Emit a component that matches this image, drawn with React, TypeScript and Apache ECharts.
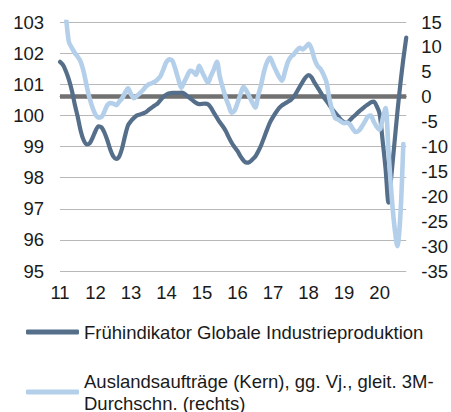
import React, { useEffect, useRef } from "react";
import * as echarts from "echarts";

// x axis: months Jan 2011 .. Oct 2020
const years = [2011, 2012, 2013, 2014, 2015, 2016, 2017, 2018, 2019, 2020];
const months = ["01", "02", "03", "04", "05", "06", "07", "08", "09", "10", "11", "12"];
const lastMonth2020 = 10;

// Frühindikator Globale Industrieproduktion (left axis)
const industrie = [
  // 2011
  101.72, 101.62, 101.42, 101.15, 100.8, 100.35, 99.95, 99.5, 99.2, 99.07, 99.1, 99.28,
  // 2012
  99.5, 99.65, 99.62, 99.45, 99.2, 98.9, 98.68, 98.6, 98.68, 98.95, 99.35, 99.68,
  // 2013
  99.82, 99.92, 100.0, 100.03, 100.06, 100.1, 100.18, 100.25, 100.32, 100.38, 100.5, 100.6,
  // 2014
  100.67, 100.71, 100.72, 100.72, 100.72, 100.73, 100.7, 100.62, 100.55, 100.47, 100.4, 100.36,
  // 2015
  100.37, 100.38, 100.36, 100.25, 100.08, 99.93, 99.78, 99.65, 99.5, 99.3, 99.12, 98.98,
  // 2016
  98.85, 98.68, 98.55, 98.48, 98.5, 98.58, 98.68, 98.85, 99.05, 99.3, 99.55, 99.78,
  // 2017
  99.95, 100.1, 100.23, 100.32, 100.38, 100.44, 100.5, 100.6, 100.75, 100.92, 101.08, 101.22,
  // 2018
  101.29, 101.22, 101.05, 100.9, 100.75, 100.6, 100.47, 100.33, 100.2, 100.08, 99.97, 99.85,
  // 2019
  99.78, 99.77, 99.85, 99.95, 100.03, 100.12, 100.2, 100.28, 100.35, 100.42, 100.44, 100.3,
  // 2020
  100.05, 99.2, 98.3, 97.2, 98.1, 99.1, 100.1, 101.0, 101.8, 102.5,
];

// Auslandsaufträge (Kern), gg. Vj., gleit. 3M-Durchschn. (right axis)
const auftraege = [
  // 2011
  24, 20, 16, 11, 9.8, 8.8, 8.0, 7.0, 5.0, 2.2, -0.3, -2.2,
  // 2012
  -3.6, -4.2, -4.1, -3.0, -1.7, -1.3, -1.4, -1.7, -1.0, -0.3, 0.8, 1.7,
  // 2013
  0.5, -0.3, 0.2, 0.7, 1.3, 2.0, 2.5, 2.7, 3.0, 3.5, 4.2, 5.6,
  // 2014
  7.0, 7.5, 7.2, 5.5, 3.5, 1.8, 3.0, 4.2, 5.2, 5.0, 4.4, 6.2,
  // 2015
  5.0, 3.8, 2.8, 4.2, 5.5, 7.0, 4.0, 1.8, -0.2, -1.8, -3.2, -2.8,
  // 2016
  -1.2, 0.5, 2.0, 1.2, 0.0, -1.2, -2.2, 0.3, 2.5, 5.2, 7.0, 7.8,
  // 2017
  6.5, 5.2, 4.0, 3.2, 5.0, 7.0, 8.0, 8.5, 9.3, 9.8, 9.5, 10.0,
  // 2018
  10.6, 9.6, 7.5, 6.2, 5.6, 4.5, 3.0, -0.3, -2.8, -4.3, -4.6, -5.0,
  // 2019
  -5.3, -5.2, -5.6, -6.5, -7.1, -6.8, -6.0, -5.0, -4.0, -3.8, -5.0, -6.0,
  // 2020
  -6.6, -4.5, -2.3, -11, -19.5, -26, -30, -24, -9.5, null,
];

const leftTicks = { min: 95, max: 103, interval: 1 };
const rightTicks = { min: -35, max: 15, interval: 5 };

const seriesNames = [
  "Frühindikator Globale Industrieproduktion",
  "Auslandsaufträge (Kern), gg. Vj., gleit. 3M-Durchschn. (rechts)",
];

const categories: string[] = [];
years.forEach((y) => {
  months.forEach((m, mi) => {
    if (y === 2020 && mi >= lastMonth2020) return;
    categories.push(`${y}-${m}`);
  });
});

const DARK = "#556f8a";
const LIGHT = "#b4cfea";
const FONT = "'Liberation Sans', Arial, sans-serif";
const FS = 18.5;

export default function App() {
  const ref = useRef<HTMLDivElement>(null);
  useEffect(() => {
    if (!ref.current) return;
    const chart = echarts.init(ref.current, undefined, { renderer: "svg" });
    chart.setOption({
      animation: false,
      backgroundColor: "#ffffff",
      textStyle: { fontFamily: FONT },
      grid: { left: 60, right: 44, top: 22, bottom: 141, containLabel: false },
      xAxis: {
        type: "category",
        data: categories,
        boundaryGap: false,
        axisLine: { show: true, lineStyle: { color: "#8c8c8c", width: 1 } },
        axisTick: { show: false },
        splitLine: { show: false },
        axisLabel: {
          interval: (idx: number) => idx % 12 === 0,
          formatter: (v: string) => v.slice(2, 4),
          color: "#1a1a1a",
          fontSize: FS,
          fontFamily: FONT,
          margin: 12,
        },
      },
      yAxis: [
        {
          type: "value",
          min: leftTicks.min,
          max: leftTicks.max,
          interval: leftTicks.interval,
          position: "left",
          axisLine: { show: false },
          axisTick: { show: false },
          splitLine: { show: true, lineStyle: { color: "#b8b8b8", width: 1 } },
          axisLabel: { color: "#1a1a1a", fontSize: FS, fontFamily: FONT, margin: 16 },
        },
        {
          type: "value",
          min: rightTicks.min,
          max: rightTicks.max,
          interval: rightTicks.interval,
          position: "right",
          axisLine: { show: false },
          axisTick: { show: false },
          splitLine: { show: false },
          axisLabel: { color: "#1a1a1a", fontSize: FS, fontFamily: FONT, margin: 15 },
        },
      ],
      legend: [
        {
          data: [seriesNames[0]],
          left: 21,
          top: 316,
          icon: "roundRect",
          itemWidth: 53,
          itemHeight: 5,
          selectedMode: false,
          textStyle: { color: "#1a1a1a", fontSize: FS, fontFamily: FONT, lineHeight: 22 },
        },
        {
          data: [seriesNames[1]],
          left: 21,
          top: 354,
          icon: "roundRect",
          itemWidth: 53,
          itemHeight: 5,
          selectedMode: false,
          formatter: () => "Auslandsaufträge (Kern), gg. Vj., gleit. 3M-\nDurchschn. (rechts)",
          textStyle: {
            color: "#1a1a1a",
            fontSize: FS,
            fontFamily: FONT,
            lineHeight: 22,
            padding: [22, 0, 0, 0],
          },
        },
      ],
      series: [
        {
          name: seriesNames[0],
          type: "line",
          yAxisIndex: 0,
          data: industrie,
          showSymbol: false,
          symbol: "none",
          smooth: 0.3,
          z: 3,
          color: DARK,
          lineStyle: { color: DARK, width: 4.2, cap: "round", join: "round" },
        },
        {
          name: seriesNames[1],
          type: "line",
          yAxisIndex: 1,
          data: auftraege,
          showSymbol: false,
          symbol: "none",
          smooth: 0.3,
          z: 4,
          color: LIGHT,
          lineStyle: { color: LIGHT, width: 4.6, cap: "round", join: "round" },
          markLine: {
            silent: true,
            z: 1,
            symbol: ["none", "none"],
            label: { show: false },
            lineStyle: { color: "#717171", width: 4.5, type: "solid" },
            data: [{ yAxis: 0 }],
          },
        },
      ],
    });
    return () => chart.dispose();
  }, []);
  return (
    <div
      ref={ref}
      style={{ position: "fixed", left: 0, top: 0, width: 451, height: 412 }}
    />
  );
}
